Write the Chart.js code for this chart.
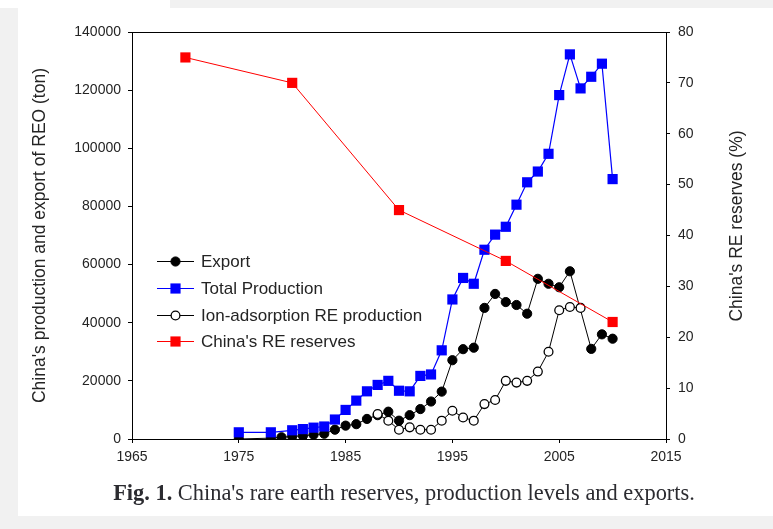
<!DOCTYPE html>
<html>
<head>
<meta charset="utf-8">
<title>China's rare earth reserves, production levels and exports</title>
<script src="https://cdn.jsdelivr.net/npm/chart.js@4.4.1/dist/chart.umd.min.js"></script>
<style>
  html, body { margin: 0; padding: 0; background: #f1f1f1; overflow: hidden; }
  #wrap { position: relative; width: 773px; height: 529px; }
</style>
</head>
<body>
<div id="wrap"><canvas id="c" width="773" height="529"></canvas></div>
<script>
// ---- data ----
const yearsTotal = [1975, 1978, 1980, 1981, 1982, 1983, 1984, 1985, 1986, 1987, 1988, 1989,
  1990, 1991, 1992, 1993, 1994, 1995, 1996, 1997, 1998, 1999, 2000, 2001, 2002, 2003,
  2004, 2005, 2006, 2007, 2008, 2009, 2010];
const totalProduction = [2300, 2300, 3000, 3400, 3900, 4300, 6700, 10000, 13200, 16400, 18600, 20000,
  16600, 16400, 21700, 22200, 30500, 48000, 55400, 53400, 65100, 70300, 73000, 80600, 88300, 92000,
  98100, 118300, 132300, 120600, 124600, 129100, 89400];

const yearsExport = [1975, 1978, 1979, 1980, 1981, 1982, 1983, 1984, 1985, 1986, 1987, 1988, 1989,
  1990, 1991, 1992, 1993, 1994, 1995, 1996, 1997, 1998, 1999, 2000, 2001, 2002, 2003,
  2004, 2005, 2006, 2008, 2009, 2010];
const exportTons = [0, 300, 600, 900, 1100, 1500, 1800, 3200, 4600, 5100, 6900, 8200, 9400,
  6300, 8200, 10300, 12900, 16300, 27100, 30900, 31400, 45100, 49900, 47100, 46100, 43100, 55100,
  53400, 52200, 57700, 31000, 36000, 34500];

const yearsIon = [1988, 1989, 1990, 1991, 1992, 1993, 1994, 1995, 1996, 1997, 1998, 1999,
  2000, 2001, 2002, 2003, 2004, 2005, 2006, 2007];
const ionAdsorption = [8600, 6300, 3200, 4000, 3200, 3200, 6300, 9700, 7400, 6300, 12000, 13400,
  20000, 19400, 20000, 23200, 30000, 44300, 45400, 45100];

const yearsReserve = [1970, 1980, 1990, 2000, 2010];
const reservesPct = [75, 70, 45, 35, 23];

const yearTicks = [1965, 1975, 1985, 1995, 2005, 2015];
const tonTicks = [0, 20000, 40000, 60000, 80000, 100000, 120000, 140000];
const pctTicks = [0, 10, 20, 30, 40, 50, 60, 70, 80];

const seriesLabels = ['Export', 'Total Production', 'Ion-adsorption RE production', "China's RE reserves"];
const leftTitle = "China's production and export of REO (ton)";
const rightTitle = "China's RE reserves (%)";
const captionBold = 'Fig. 1.';
const captionText = " China's rare earth reserves, production levels and exports.";

// ---- helpers ----
const toPoints = (xs, ys) => xs.map((x, i) => ({ x: x, y: ys[i] }));
const TICK_FONT = { family: 'Liberation Sans, Arial, sans-serif', size: 14 };
const TEXT_COLOR = '#242424';

const decor = {
  id: 'decor',
  beforeDraw(chart) {
    const ctx = chart.ctx;
    ctx.save();
    ctx.fillStyle = '#f1f1f1';
    ctx.fillRect(0, 0, 773, 529);
    ctx.fillStyle = '#ffffff';
    ctx.fillRect(18, 8, 755, 508);
    ctx.fillRect(0, 0, 170, 8);
    ctx.restore();
  },
  beforeDatasetsDraw(chart) {
    const { ctx, chartArea: a } = chart;
    ctx.save();
    ctx.strokeStyle = '#000';
    ctx.lineWidth = 1;
    ctx.strokeRect(Math.round(a.left) + 0.5, Math.round(a.top) + 0.5,
      Math.round(a.right - a.left), Math.round(a.bottom - a.top));
    ctx.restore();
  },
  afterDraw(chart) {
    const { ctx, chartArea: a } = chart;
    ctx.save();
    // axis titles, both reading bottom-to-top
    ctx.fillStyle = TEXT_COLOR;
    ctx.font = '17.5px "Liberation Sans", Arial, sans-serif';
    ctx.textAlign = 'center';
    ctx.textBaseline = 'middle';
    ctx.save();
    ctx.translate(40, (a.top + a.bottom) / 2);
    ctx.rotate(-Math.PI / 2);
    ctx.fillText(leftTitle, 0, 0);
    ctx.restore();
    ctx.save();
    ctx.translate(737, 226);
    ctx.rotate(-Math.PI / 2);
    ctx.fillText(rightTitle, 0, 0);
    ctx.restore();

    // legend inside the plot
    const rows = [261, 288, 315, 341];
    chart.data.datasets.forEach((ds, i) => {
      const y = rows[i];
      const meta = chart.getDatasetMeta(i);
      const opt = meta.data[0].options;
      ctx.strokeStyle = ds.borderColor;
      ctx.lineWidth = 1;
      ctx.beginPath();
      ctx.moveTo(157, y + 0.5);
      ctx.lineTo(194, y + 0.5);
      ctx.stroke();
      ctx.fillStyle = opt.backgroundColor;
      ctx.strokeStyle = opt.borderColor;
      ctx.lineWidth = opt.borderWidth;
      Chart.helpers.drawPoint(ctx, {
        pointStyle: opt.pointStyle, radius: opt.radius, rotation: 0, borderWidth: opt.borderWidth
      }, 175.5, y + 0.5);
      ctx.fillStyle = TEXT_COLOR;
      ctx.font = '17px "Liberation Sans", Arial, sans-serif';
      ctx.textAlign = 'left';
      ctx.textBaseline = 'middle';
      ctx.fillText(seriesLabels[i], 201, y + 1);
    });

    // caption
    const target = 582, cx = 404, cy = 494;
    let size = 18;
    const boldFont = s => 'bold ' + s + 'px "Liberation Serif", serif';
    const normFont = s => s + 'px "Liberation Serif", serif';
    ctx.font = boldFont(size);
    let wb = ctx.measureText(captionBold).width;
    ctx.font = normFont(size);
    let wn = ctx.measureText(captionText).width;
    size = size * target / (wb + wn);
    ctx.font = boldFont(size);
    wb = ctx.measureText(captionBold).width;
    ctx.font = normFont(size);
    wn = ctx.measureText(captionText).width;
    const x0 = cx - (wb + wn) / 2;
    ctx.fillStyle = '#2b2b30';
    ctx.textAlign = 'left';
    ctx.textBaseline = 'middle';
    ctx.font = boldFont(size);
    ctx.fillText(captionBold, x0, cy);
    ctx.font = normFont(size);
    ctx.fillText(captionText, x0 + wb, cy);
    ctx.restore();
  }
};

new Chart(document.getElementById('c').getContext('2d'), {
  type: 'line',
  data: {
    datasets: [
      {
        label: seriesLabels[0], data: toPoints(yearsExport, exportTons), yAxisID: 'y',
        borderColor: '#000', backgroundColor: '#000', borderWidth: 1,
        pointStyle: 'circle', pointRadius: 4.6, pointBorderWidth: 1,
        pointBackgroundColor: '#000', pointBorderColor: '#000', order: 3
      },
      {
        label: seriesLabels[1], data: toPoints(yearsTotal, totalProduction), yAxisID: 'y',
        borderColor: '#0000ff', backgroundColor: '#0000ff', borderWidth: 1.2,
        pointStyle: 'rect', pointRadius: 7.2, pointBorderWidth: 0,
        pointBackgroundColor: '#0000ff', pointBorderColor: '#0000ff', order: 2
      },
      {
        label: seriesLabels[2], data: toPoints(yearsIon, ionAdsorption), yAxisID: 'y',
        borderColor: '#000', backgroundColor: '#fff', borderWidth: 1,
        pointStyle: 'circle', pointRadius: 4.4, pointBorderWidth: 1.3,
        pointBackgroundColor: '#fff', pointBorderColor: '#000', order: 1
      },
      {
        label: seriesLabels[3], data: toPoints(yearsReserve, reservesPct), yAxisID: 'y1',
        borderColor: '#ff0000', backgroundColor: '#ff0000', borderWidth: 1,
        pointStyle: 'rect', pointRadius: 7.2, pointBorderWidth: 0,
        pointBackgroundColor: '#ff0000', pointBorderColor: '#ff0000', order: 0
      }
    ]
  },
  options: {
    responsive: false,
    animation: false,
    devicePixelRatio: 1,
    layout: { padding: { top: 32, left: 0, right: 0, bottom: 0 } },
    elements: { line: { tension: 0 } },
    plugins: { legend: { display: false }, tooltip: { enabled: false } },
    scales: {
      x: {
        type: 'linear', position: 'bottom', min: 1965, max: 2015,
        afterBuildTicks: s => { s.ticks = yearTicks.map(v => ({ value: v })); },
        afterFit: s => { s.height = 90; },
        ticks: { font: TICK_FONT, color: TEXT_COLOR, padding: 6, maxRotation: 0, callback: v => String(v) },
        grid: { drawOnChartArea: false, drawTicks: true, tickLength: 4, color: '#000' },
        border: { display: false }
      },
      y: {
        type: 'linear', position: 'left', min: 0, max: 140000,
        afterBuildTicks: s => { s.ticks = tonTicks.map(v => ({ value: v })); },
        afterFit: s => { s.width = 132; },
        ticks: { font: TICK_FONT, color: TEXT_COLOR, padding: 7, callback: v => String(v) },
        grid: { drawOnChartArea: false, drawTicks: true, tickLength: 4, color: '#000' },
        border: { display: false }
      },
      y1: {
        type: 'linear', position: 'right', min: 0, max: 80,
        afterBuildTicks: s => { s.ticks = pctTicks.map(v => ({ value: v })); },
        afterFit: s => { s.width = 107; },
        ticks: { font: TICK_FONT, color: TEXT_COLOR, padding: 8, callback: v => String(v) },
        grid: { drawOnChartArea: false, drawTicks: true, tickLength: 4, color: '#000' },
        border: { display: false }
      }
    }
  },
  plugins: [decor]
});
</script>
</body>
</html>
